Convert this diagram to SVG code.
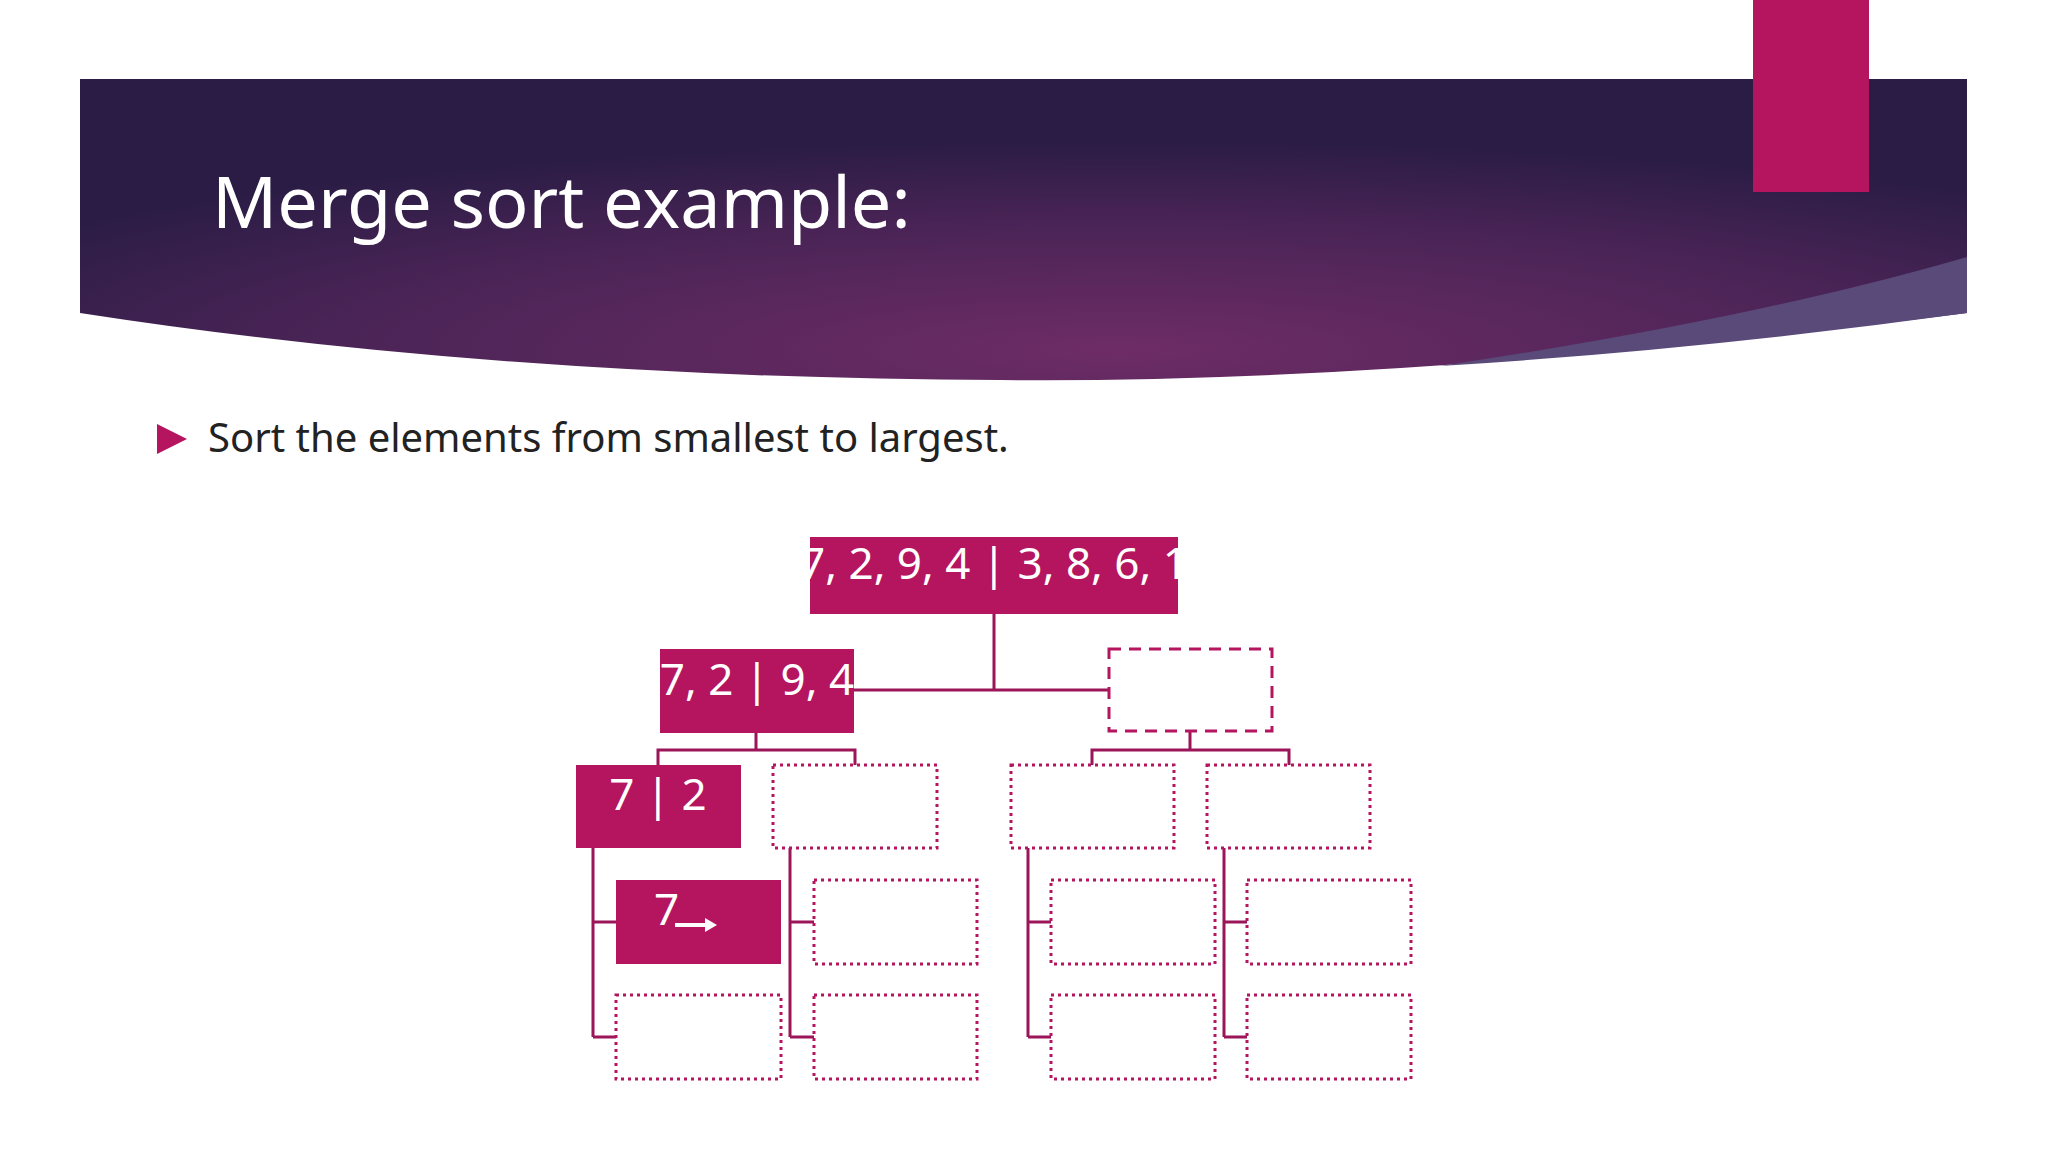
<svg xmlns="http://www.w3.org/2000/svg" width="2048" height="1152" viewBox="0 0 2048 1152">
<defs>
<radialGradient id="hg" cx="0.55" cy="0.9" r="0.7">
<stop offset="0" stop-color="#6e2c66"/>
<stop offset="0.6" stop-color="#4a2456"/>
<stop offset="1" stop-color="#2a1c45"/>
</radialGradient>
<style>
.f{fill:#b5145f}
.t{fill:#fff;font-family:"Noto Sans","Open Sans",sans-serif;font-size:44px}
.dot{fill:none;stroke:#b5145f;stroke-width:3;stroke-dasharray:3 4}
.dash{fill:none;stroke:#b5145f;stroke-width:3;stroke-dasharray:12 8}
.c{fill:none;stroke:#9c1559;stroke-width:3}
</style>
</defs>
<rect width="2048" height="1152" fill="#fff"/>
<g id="header">
<path d="M80 79 H1967 V313 Q1400 384 1000 380 Q500 378 80 313 Z" fill="url(#hg)"/>
<path d="M1967 257 V313 Q1700 350 1440 366 Q1750 320 1967 257 Z" fill="#5a4a7a"/>
<rect x="1753" y="0" width="116" height="192" fill="#b5145f"/>
<text x="212" y="228" font-family="'Noto Sans','Open Sans',sans-serif" font-size="72" fill="#fff">Merge sort example:</text>
</g>
<g id="bullet">
<path d="M157 424 L187 439 L157 454 Z" fill="#b5145f"/>
<text x="208" y="452" font-family="'Noto Sans','Open Sans',sans-serif" font-size="40" fill="#222">Sort the elements from smallest to largest.</text>
</g>
<g id="connectors">
<path class="c" d="M994 614 V690 M854 690 H1109"/>
<path class="c" d="M756 733 V750 M658 765 V750 H855 V765"/>
<path class="c" d="M1190 731 V750 M1092 765 V750 H1289 V765"/>
<path class="c" d="M593 848 V1037 M593 922 H616 M593 1037 H616"/>
<path class="c" d="M790 848 V1037 M790 922 H814 M790 1037 H814"/>
<path class="c" d="M1028 848 V1037 M1028 922 H1051 M1028 1037 H1051"/>
<path class="c" d="M1224 848 V1037 M1224 922 H1247 M1224 1037 H1247"/>
</g>
<g id="root"><rect class="f" x="810" y="537" width="368" height="77"/><text class="t" x="994" y="579" text-anchor="middle">7, 2, 9, 4 | 3, 8, 6, 1</text></g>
<g id="n7294"><rect class="f" x="660" y="649" width="194" height="84"/><text class="t" x="757" y="695" text-anchor="middle">7, 2 | 9, 4</text></g>
<g id="nright"><rect class="dash" x="1109" y="649" width="163" height="82"/></g>
<g id="n72"><rect class="f" x="576" y="765" width="165" height="83"/><text class="t" x="658" y="810" text-anchor="middle">7 | 2</text></g>
<g id="l3b"><rect class="dot" x="773" y="765" width="164" height="83"/></g>
<g id="l3c"><rect class="dot" x="1011" y="765" width="163" height="83"/></g>
<g id="l3d"><rect class="dot" x="1207" y="765" width="163" height="83"/></g>
<g id="n7"><rect class="f" x="616" y="880" width="165" height="84"/><text class="t" x="654" y="925">7</text>
<path d="M675 925 H707" stroke="#fff" stroke-width="4"/><path d="M705 918 L717 925 L705 932 Z" fill="#fff"/></g>
<g id="l4b"><rect class="dot" x="814" y="880" width="163" height="84"/></g>
<g id="l4c"><rect class="dot" x="1051" y="880" width="164" height="84"/></g>
<g id="l4d"><rect class="dot" x="1247" y="880" width="164" height="84"/></g>
<g id="l5a"><rect class="dot" x="616" y="995" width="165" height="84"/></g>
<g id="l5b"><rect class="dot" x="814" y="995" width="163" height="84"/></g>
<g id="l5c"><rect class="dot" x="1051" y="995" width="164" height="84"/></g>
<g id="l5d"><rect class="dot" x="1247" y="995" width="164" height="84"/></g>
</svg>
